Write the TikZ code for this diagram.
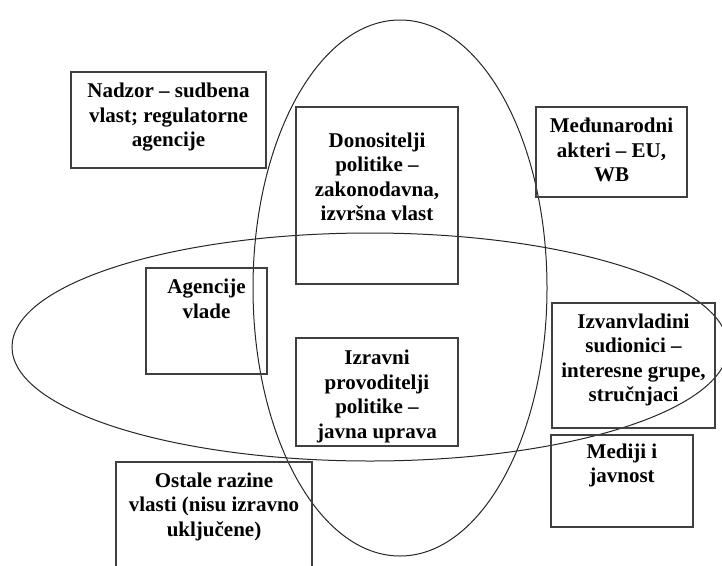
\documentclass[tikz,border=0pt]{standalone}
\usepackage{fontspec}
\setmainfont{Liberation Serif}
\usetikzlibrary{positioning}

\tikzset{
  frame/.style={draw=black!75, line width=1.2pt, inner sep=0pt},
  lbl/.style={font=\bfseries\fontsize{21}{24.5}\selectfont, align=center, inner sep=0pt},
  arena/.style={draw=black!85, line width=1pt}
}

\begin{document}
\begin{tikzpicture}[x=1pt, y=-1pt]
\useasboundingbox (0,0) rectangle (722,565);
% the two overlapping arenas
\draw[arena] (400,288) ellipse [x radius=147, y radius=268];
\draw[arena] (370,347) ellipse [x radius=358, y radius=114];
% actors
\node[frame, minimum width=195pt, minimum height=96pt] (nadzor) at (168.5,120) {};
\node[lbl, below=11.5pt of nadzor.north] (nadzor-t) {Nadzor – sudbena\\vlast; regulatorne\\agencije};
\node[frame, minimum width=162pt, minimum height=177pt] (donositelji) at (377,195.5) {};
\node[lbl, below=26pt of donositelji.north] (donositelji-t) {Donositelji\\politike –\\zakonodavna,\\izvršna vlast};
\node[frame, minimum width=151pt, minimum height=90pt] (medunarodni) at (611.5,152) {};
\node[lbl, below=11.5pt of medunarodni.north] (medunarodni-t) {Međunarodni\\akteri – EU,\\WB};
\node[frame, minimum width=121pt, minimum height=106pt] (agencije) at (206.5,321) {};
\node[lbl, below=11.5pt of agencije.north] (agencije-t) {Agencije\\vlade};
\node[frame, minimum width=162pt, minimum height=108pt] (izravni) at (377,392) {};
\node[lbl, below=12.5pt of izravni.north] (izravni-t) {Izravni\\provoditelji\\politike –\\javna uprava};
\node[frame, minimum width=163pt, minimum height=125pt] (izvanvladini) at (633.5,365.5) {};
\node[lbl, below=11pt of izvanvladini.north] (izvanvladini-t) {Izvanvladini\\sudionici –\\interesne grupe,\\stručnjaci};
\node[frame, minimum width=196pt, minimum height=108pt] (ostale) at (214,516) {};
\node[lbl, below=11pt of ostale.north] (ostale-t) {Ostale razine\\vlasti (nisu izravno\\uključene)};
\node[frame, minimum width=142pt, minimum height=92pt] (mediji) at (622,481) {};
\node[lbl, below=9pt of mediji.north] (mediji-t) {Mediji i\\javnost};
\end{tikzpicture}
\end{document}
